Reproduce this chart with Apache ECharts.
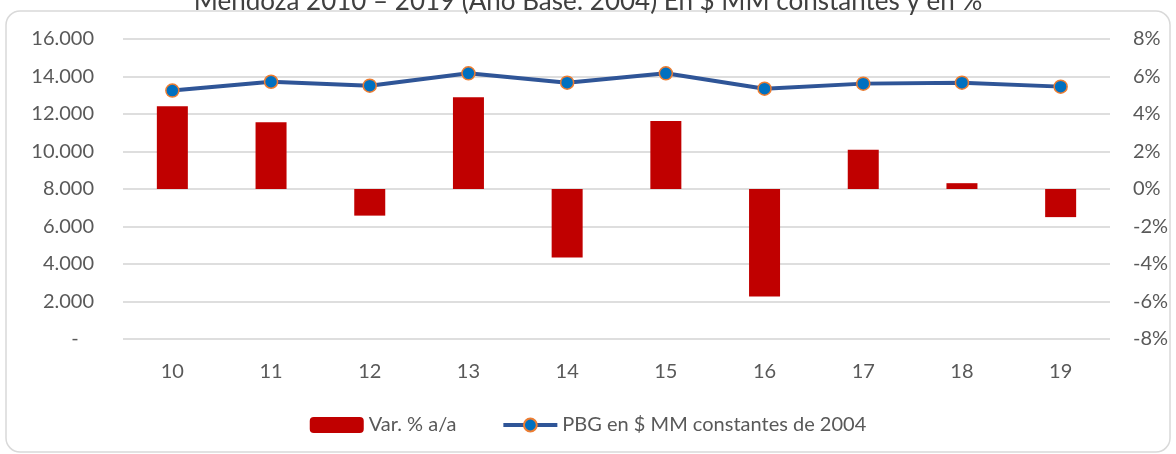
<!DOCTYPE html>
<html>
<head>
<meta charset="utf-8">
<title>PBG Mendoza 2010 - 2019</title>
<script src="https://cdn.jsdelivr.net/npm/echarts@6.0.0/dist/echarts.min.js"></script>
<style>
  html, body { margin: 0; padding: 0; background: #fff; }
  #chart { width: 1176px; height: 454px; }
</style>
</head>
<body>
<div id="chart"></div>
<script>
  // datos
  var years = ['10', '11', '12', '13', '14', '15', '16', '17', '18', '19'];
  var varPct = [4.41, 3.56, -1.42, 4.89, -3.65, 3.63, -5.73, 2.10, 0.31, -1.50];
  var pbg = [13250, 13720, 13510, 14170, 13670, 14170, 13350, 13620, 13670, 13460];

  var titulo = 'Mendoza 2010 – 2019 (Año Base: 2004) En $ MM constantes y en %';
  var serieBarra = 'Var. % a/a';
  var serieLinea = 'PBG en $ MM constantes de 2004';

  var fuente = 'Lato';
  var gris = '#595959';

  var myChart = echarts.init(document.getElementById('chart'));

  var option = {
    animation: false,
    title: {
      text: titulo,
      left: 'center',
      top: -16,
      textStyle: { fontFamily: fuente, fontSize: 26, fontWeight: 'normal', color: '#404040' }
    },
    graphic: [
      {
        type: 'rect',
        z: -1,
        shape: { x: 6, y: 11, width: 1164, height: 441, r: 14 },
        style: { fill: '#fff', stroke: '#d9d9d9', lineWidth: 1.5 }
      }
    ],
    legend: {
      bottom: 14,
      left: 'center',
      itemWidth: 54,
      itemHeight: 16,
      itemGap: 45,
      lineStyle: { width: 4 },
      textStyle: { fontFamily: fuente, fontSize: 20, color: gris },
      data: [serieBarra, serieLinea]
    },
    grid: { left: 123, right: 66, top: 39, bottom: 115 },
    xAxis: {
      type: 'category',
      data: years,
      axisLine: { show: false },
      axisTick: { show: false },
      axisLabel: { margin: 23, fontFamily: fuente, fontSize: 20, color: gris }
    },
    yAxis: [
      {
        type: 'value',
        min: 0,
        max: 16000,
        interval: 2000,
        axisLine: { show: false },
        axisTick: { show: false },
        splitLine: { lineStyle: { color: '#dedede', width: 2 } },
        axisLabel: {
          margin: 29,
          fontFamily: fuente,
          fontSize: 20,
          color: gris,
          formatter: function (v) {
            if (v === 0) return '-   ';
            return String(v).replace(/\B(?=(\d{3})+(?!\d))/g, '.');
          }
        }
      },
      {
        type: 'value',
        min: -8,
        max: 8,
        interval: 2,
        axisLine: { show: false },
        axisTick: { show: false },
        splitLine: { show: false },
        axisLabel: { margin: 23, fontFamily: fuente, fontSize: 20, color: gris, formatter: '{value}%' }
      }
    ],
    series: [
      {
        name: serieBarra,
        type: 'bar',
        yAxisIndex: 1,
        barWidth: 31,
        itemStyle: { color: '#c00000' },
        data: varPct
      },
      {
        name: serieLinea,
        type: 'line',
        yAxisIndex: 0,
        symbol: 'circle',
        symbolSize: 13,
        lineStyle: { color: '#2f5597', width: 4 },
        itemStyle: { color: '#0070c0', borderColor: '#ed7d31', borderWidth: 1.5 },
        data: pbg
      }
    ]
  };

  myChart.setOption(option);
</script>
</body>
</html>
